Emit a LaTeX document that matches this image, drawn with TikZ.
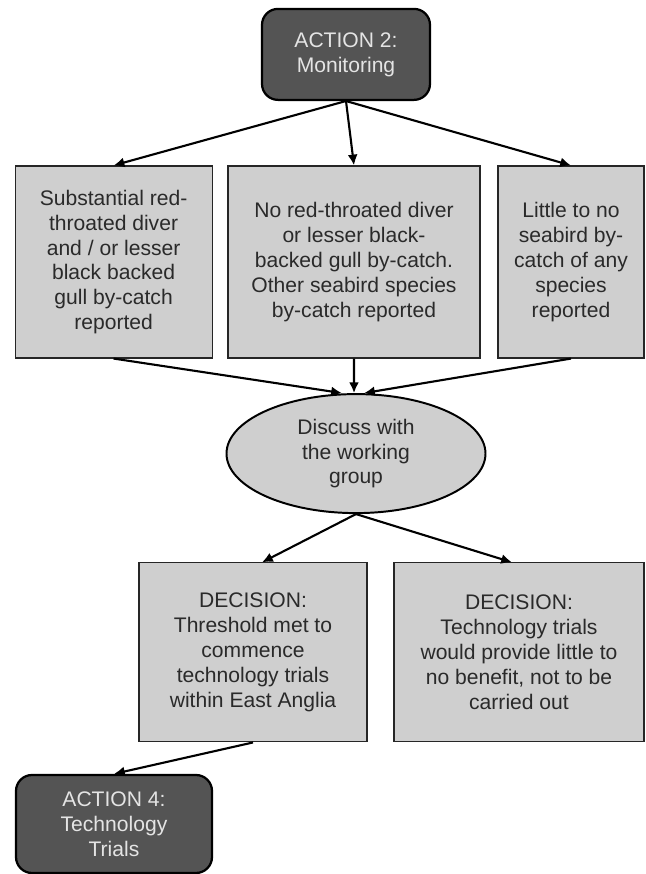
\documentclass[tikz,border=0pt]{standalone}
\usepackage{fontspec}
\setmainfont{Liberation Sans}
\usepackage{tikz}
\usetikzlibrary{arrows.meta,positioning,calc,shapes.geometric}
\definecolor{actFill}{HTML}{545454}
\definecolor{actText}{HTML}{E4E4E4}
\definecolor{boxFill}{HTML}{CFCFCF}
\definecolor{boxText}{HTML}{2A2A2A}

\begin{document}
\begin{tikzpicture}[
  action/.style={draw=black, line width=1.6pt, fill=actFill, rounded corners=0.4cm,
    text=actText, align=center, inner sep=0pt, font=\fontsize{15}{17.7}\selectfont},
  outcome/.style={draw=black!85, line width=0.8pt, fill=boxFill, text=boxText,
    align=center, inner sep=0pt, font=\fontsize{15}{17.7}\selectfont},
  flow/.style={-{Latex[length=2.7mm,width=2.5mm]}, line width=1.5pt}
]
  \useasboundingbox (0,0) rectangle (16.125,21.85);
  \node[action, minimum width=4.2cm, minimum height=2.275cm] (act2) at (8.65,20.49) {ACTION 2:\\Monitoring};
  \node[outcome, minimum width=4.925cm, minimum height=4.8cm] (sub) at (2.84,15.3)
    {Substantial red-\\throated diver\\and / or lesser\\black backed\\gull by-catch\\reported};
  \node[outcome, minimum width=6.3cm, minimum height=4.8cm] (noRtd) at (8.85,15.3)
    {No red-throated diver\\or lesser black-\\backed gull by-catch.\\Other seabird species\\by-catch reported};
  \node[outcome, minimum width=3.65cm, minimum height=4.8cm] (little) at (14.275,15.3)
    {Little to no\\seabird by-\\catch of any\\species\\reported};
  \node[outcome, ellipse, line width=1.4pt, draw=black, minimum width=6.475cm, minimum height=2.975cm] (discuss) at (8.9,10.51)
    {Discuss with\\the working\\group};
  \node[outcome, minimum width=5.7cm, minimum height=4.475cm] (decGo) at (6.325,5.54)
    {DECISION:\\Threshold met to\\commence\\technology trials\\within East Anglia};
  \node[outcome, minimum width=6.25cm, minimum height=4.475cm] (decNo) at (12.975,5.54)
    {DECISION:\\Technology trials\\would provide little to\\no benefit, not to be\\carried out};
  \node[action, minimum width=4.9cm, minimum height=2.45cm] (act4) at (2.85,1.25) {ACTION 4:\\Technology\\Trials};

  \draw[flow] (act2.south) -- (sub.north);
  \draw[flow] (act2.south) -- (noRtd.north);
  \draw[flow] (act2.south) -- (little.north);
  \draw[flow] (sub.south) -- ($(discuss.north)+(-0.35,0)$);
  \draw[flow] (noRtd.south) -- ($(discuss.north)+(-0.05,0)$);
  \draw[flow] (little.south) -- ($(discuss.north)+(0.2,0)$);
  \draw[flow] (discuss.south) -- ($(decGo.north)+(0.225,0)$);
  \draw[flow] (discuss.south) -- ($(decNo.north)+(-0.175,0)$);
  \draw[flow] (decGo.south) -- (act4.north);
\end{tikzpicture}
\end{document}
